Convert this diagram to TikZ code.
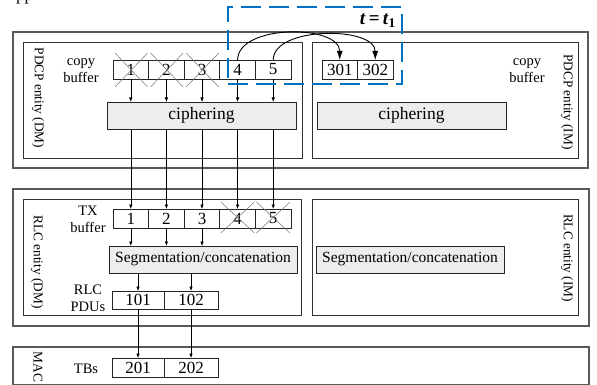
\documentclass[tikz,border=0pt]{standalone}
\usepackage{fontspec}
\setmainfont{Liberation Serif}
\usetikzlibrary{arrows.meta,calc}

\begin{document}
\begin{tikzpicture}[x=1pt,y=-1pt,
  frame/.style={draw=black!65, line width=1.4pt, anchor=north west, inner sep=0pt, outer sep=0pt},
  entity/.style={draw=black!80, line width=0.9pt, anchor=north west, inner sep=0pt, outer sep=0pt},
  cell/.style={draw=black!85, line width=0.9pt, minimum height=19pt, inner sep=0pt, outer sep=0pt,
    anchor=north west, font=\fontsize{17}{17}\selectfont},
  proc/.style={draw=black!85, fill=black!7, line width=0.9pt, minimum height=27pt, inner sep=0pt,
    outer sep=0pt, anchor=north west},
  lbl/.style={font=\fontsize{14.5}{17}\selectfont, align=center, inner sep=0pt},
  side/.style={font=\fontsize{13.3}{14}\selectfont, rotate=-90, inner sep=0pt},
  arr/.style={-{Latex[length=4.5pt,width=3.5pt]}, line width=0.6pt},
  bigarr/.style={-{Latex[length=9pt,width=6pt]}, line width=0.9pt},
  xmark/.style={draw=black!55, line width=0.5pt},
  window/.style={draw={rgb,255:red,0;green,112;blue,192}, line width=2.2pt, dash pattern=on 20pt off 8pt}
]
\useasboundingbox (0,0) rectangle (597,385);

% cropped caption text from above
\node[anchor=base west, inner sep=0pt, font=\fontsize{17}{17}\selectfont] (capt) at (16,0.3) {pp};

% layer frames
\node[frame, minimum width=575pt, minimum height=136pt] (pdcp) at (13,32) {};
\node[frame, minimum width=576pt, minimum height=137pt] (rlc) at (13,189) {};
\node[frame, minimum width=576pt, minimum height=38pt] (mac) at (13,347) {};

% entities
\node[entity, minimum width=279pt, minimum height=116pt] (pdcpdm) at (23,42) {};
\node[entity, minimum width=266pt, minimum height=116pt] (pdcpim) at (312,42) {};
\node[entity, minimum width=278pt, minimum height=116pt] (rlcdm) at (23,199) {};
\node[entity, minimum width=266pt, minimum height=116pt] (rlcim) at (312,199) {};

% side labels
\node[side] (lpdm) at (38,98) {PDCP entity (DM)};
\node[side] (lpim) at (567,102) {PDCP entity (IM)};
\node[side] (lrdm) at (37,262) {RLC entity (DM)};
\node[side] (lrim) at (567,258) {RLC entity (IM)};
\node[side] (lmac) at (38,367) {MAC};

% buffer labels
\node[lbl] (cbdm) at (81,71) {copy\\buffer};
\node[lbl] (cbim) at (527,71) {copy\\buffer};
\node[lbl] (txl) at (88,219) {TX\\buffer};
\node[lbl] (pdul) at (88,298) {RLC\\PDUs};
\node[lbl] (tbl) at (86,369) {TBs};

% PDCP copy buffer (DM) and TX buffer
\foreach \i in {1,...,5} {
  \node[cell, minimum width=35.6pt] (c\i) at ({113+35.6*(\i-1)},60) {\i};
  \node[cell, minimum width=35.6pt] (tx\i) at ({113+35.6*(\i-1)},209) {\i};
}
% PDCP copy buffer (IM)
\node[cell, minimum width=35.5pt] (k1) at (322,60) {301};
\node[cell, minimum width=35.5pt] (k2) at (357.5,60) {302};

% processing blocks
\node[proc, minimum width=189pt, font=\fontsize{17.5}{17.5}\selectfont] (ciph) at (107,102) {ciphering};
\node[proc, minimum width=189pt, font=\fontsize{17.5}{17.5}\selectfont] (ciphim) at (317,102) {ciphering};
\node[proc, minimum width=188pt, font=\fontsize{15.5}{15.5}\selectfont] (seg) at (109,246) {Segmentation/concatenation};
\node[proc, minimum width=188pt, font=\fontsize{15.5}{15.5}\selectfont] (segim) at (316,246) {Segmentation/concatenation};

% RLC PDUs and transport blocks
\node[cell, minimum width=52pt, minimum height=18pt] (p1) at (112,291) {101};
\node[cell, minimum width=54pt, minimum height=18pt] (p2) at (164,291) {102};
\node[cell, minimum width=52pt] (b1) at (112,358) {201};
\node[cell, minimum width=54pt] (b2) at (164,358) {202};

% discarded SDUs
\foreach \i in {1,2,3}
  \draw[xmark] ($(c\i.north west)+(2,-7)$) -- ($(c\i.south east)+(-1,8)$)
               ($(c\i.north east)+(-1,-7)$) -- ($(c\i.south west)+(2,8)$);
\foreach \i in {4,5}
  \draw[xmark] ($(tx\i.north west)+(1,-7)$) -- ($(tx\i.south east)+(-1,5)$)
               ($(tx\i.north east)+(-1,-7)$) -- ($(tx\i.south west)+(1,5)$);

% data flow
\foreach \i in {1,...,5} {
  \draw[arr] (c\i.south) -- (c\i.south |- ciph.north);
  \draw[arr] (ciph.south -| tx\i) -- (tx\i.north);
}
\foreach \i in {1,2,3}
  \draw[arr] (tx\i.south) -- (tx\i.south |- seg.north);
\draw[arr] (seg.south -| p1) -- (p1.north);
\draw[arr] (seg.south -| p2) -- (p2.north);
\draw[arr] (p1.south) -- (b1.north);
\draw[arr] (p2.south) -- (b2.north);

% copy of buffered SDUs at t = t1
\draw[bigarr] (c4.north) .. controls ($(c4.north)+(0,-36)$) and ($(k1.north)+(0,-36)$) .. (k1.north);
\draw[bigarr] (c5.north) .. controls ($(c5.north)+(0,-34)$) and ($(k2.north)+(0,-34)$) .. (k2.north);

\node[window, minimum width=174pt, minimum height=77pt, anchor=north west, inner sep=0pt] (win) at (227,6) {};
\node[anchor=east, inner sep=0pt, font=\fontsize{19}{19}\selectfont] (tlab) at (396,21)
  {\textbf{\textit{t}\,=\,\textit{t}\textsubscript{1}}};
\end{tikzpicture}
\end{document}
